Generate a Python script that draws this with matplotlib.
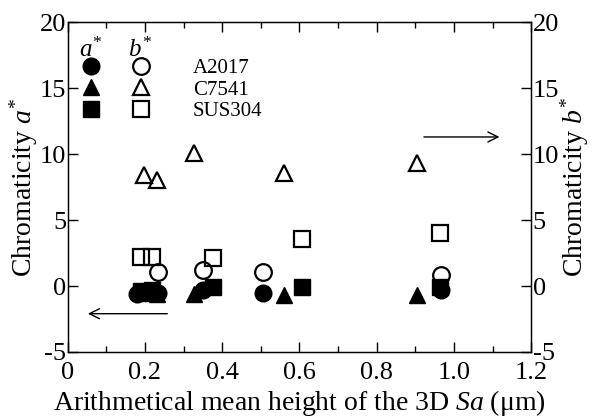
import matplotlib
matplotlib.use('Agg')
import matplotlib.pyplot as plt
from matplotlib.legend_handler import HandlerTuple

plt.rcParams['font.family'] = 'Liberation Serif'
plt.rcParams['mathtext.fontset'] = 'custom'
plt.rcParams['mathtext.rm'] = 'Liberation Serif'
plt.rcParams['mathtext.it'] = 'Liberation Serif:italic'
plt.rcParams['axes.unicode_minus'] = False

# A2017
a2017_x_a = [0.18, 0.233, 0.35, 0.505, 0.966]
a2017_a = [-0.6, -0.5, -0.3, -0.5, -0.3]
a2017_x_b = [0.233, 0.35, 0.505, 0.966]
a2017_b = [1.1, 1.2, 1.1, 0.8]

# C7541
c7541_x = [0.197, 0.23, 0.326, 0.56, 0.904]
c7541_a = [-0.5, -0.6, -0.6, -0.7, -0.7]
c7541_b = [8.4, 8.0, 10.1, 8.6, 9.3]

# SUS304
sus_x = [0.19, 0.218, 0.376, 0.606, 0.964]
sus_a = [-0.4, -0.3, -0.1, -0.1, -0.1]
sus_b = [2.2, 2.2, 2.1, 3.6, 4.0]

labels = ['A2017', 'C7541', 'SUS304']

fig = plt.figure(figsize=(6.05, 4.19), dpi=100)
ax = fig.add_axes([0.112, 0.160, 0.766, 0.787])

ms = 12
mew = 1.6
h_ca, = ax.plot(a2017_x_a, a2017_a, 'o', color='black', ms=ms, ls='none')
h_cb, = ax.plot(a2017_x_b, a2017_b, 'o', mfc='white', mec='black', mew=mew, ms=ms, ls='none')
h_ta, = ax.plot(c7541_x, c7541_a, '^', color='black', ms=ms, ls='none')
h_tb, = ax.plot(c7541_x, c7541_b, '^', mfc='none', mec='black', mew=mew, ms=ms, ls='none')
h_sa, = ax.plot(sus_x, sus_a, 's', color='black', ms=ms - 1, ls='none')
h_sb, = ax.plot(sus_x, sus_b, 's', mfc='none', mec='black', mew=mew, ms=ms - 1, ls='none')

ax.set_xlim(0, 1.2)
ax.set_ylim(-5, 20)
ax.set_xticks([0, 0.2, 0.4, 0.6, 0.8, 1.0, 1.2])
ax.set_xticklabels(['0', '0.2', '0.4', '0.6', '0.8', '1.0', '1.2'])
ax.set_xticks([0.1, 0.3, 0.5, 0.7, 0.9, 1.1], minor=True)
ax.set_yticks([-5, 0, 5, 10, 15, 20])
ax.tick_params(axis='x', which='major', direction='in', length=7, width=1,
               labelsize=19, top=True, pad=7)
ax.tick_params(axis='y', which='major', direction='in', length=7, width=1,
               labelsize=19, pad=1, right=False)
ax.tick_params(axis='x', which='minor', direction='in', length=4, width=1, top=True)
for s in ax.spines.values():
    s.set_linewidth(1)

ax2 = ax.twinx()
ax2.set_ylim(-5, 20)
ax2.set_yticks([-5, 0, 5, 10, 15, 20])
ax2.tick_params(axis='y', direction='in', length=7, width=1, labelsize=19, pad=1)

ax.set_xlabel('Arithmetical mean height of the 3D $\\mathit{Sa}$ (\u03bcm)', fontsize=20, labelpad=3)
ax.set_ylabel('Chromaticity $\\mathit{a}^{*}$', fontsize=20, labelpad=0)
ax2.set_ylabel('Chromaticity $\\mathit{b}^{*}$', fontsize=20, labelpad=0)

leg = ax.legend([(h_ca, h_cb), (h_ta, h_tb), (h_sa, h_sb)], labels,
                handler_map={tuple: HandlerTuple(ndivide=None, pad=0)},
                loc='upper left', bbox_to_anchor=(-0.004, 0.89),
                frameon=False, fontsize=15, handlelength=4.8, handletextpad=1.3,
                labelspacing=0.1, borderpad=0, borderaxespad=0)

ax.text(0.05, 0.915, '$\\mathit{a}^{*}$', transform=ax.transAxes, fontsize=18, ha='center', va='center')
ax.text(0.157, 0.915, '$\\mathit{b}^{*}$', transform=ax.transAxes, fontsize=18, ha='center', va='center')

ax.annotate('', xy=(0.045, -2.1), xytext=(0.265, -2.1),
            arrowprops=dict(arrowstyle='->', lw=1, mutation_scale=18))
ax.annotate('', xy=(1.125, 11.3), xytext=(0.915, 11.3),
            arrowprops=dict(arrowstyle='->', lw=1, mutation_scale=18))

fig.savefig('out.png', dpi=100)
